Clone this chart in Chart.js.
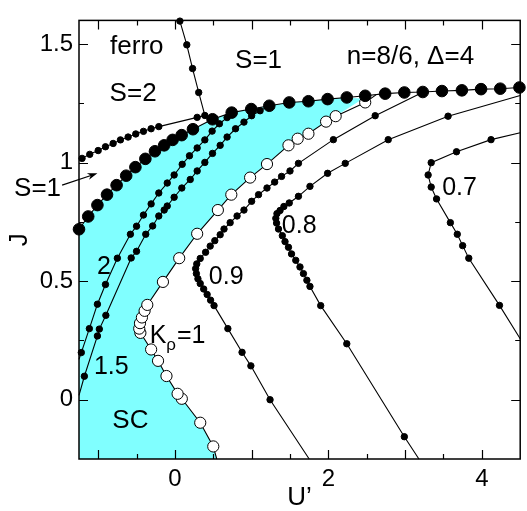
<!DOCTYPE html>
<html><head><meta charset="utf-8">
<script src="https://cdn.jsdelivr.net/npm/chart.js@4.4.1/dist/chart.umd.min.js"></script>
<style>html,body{margin:0;padding:0;background:#fff}#wrap{width:527px;height:511px}</style>
</head><body><div id="wrap"><canvas id="c" width="527" height="511"></canvas></div>
<script>
// ---------------- data (U', J) ----------------
const xRange = [-1.25, 4.5];
const yRange = [-0.25, 1.6];
const xTickLabels = [0, 2, 4];
const yTickLabels = [0, 0.5, 1, 1.5];
const xTickMarks = [-1, -0.5, 0, 0.5, 1, 1.5, 2, 2.5, 3, 3.5, 4];
const yTickMarks = [0, 0.25, 0.5, 0.75, 1, 1.25, 1.5];

// ferro / SC boundary (large filled dots)
const ferroSC = [[-1.25,0.719],[-1.13,0.773],[-1.01,0.821],[-0.885,0.865],[-0.76,0.905],[-0.635,0.945],[-0.515,0.981],[-0.385,1.016],[-0.26,1.048],[-0.14,1.073],[-0.03,1.096],[0.088,1.116],[0.235,1.141],[0.49,1.183],[0.74,1.211],[0.995,1.226],[1.23,1.24],[1.49,1.254],[1.74,1.259],[1.99,1.268],[2.24,1.275],[2.48,1.282],[2.74,1.291],[2.99,1.296],[3.23,1.298],[3.48,1.302],[3.74,1.305],[3.99,1.31],[4.24,1.312],[4.49,1.317]];
// S=1 / S=2 boundary
const s1s2 = [[-1.21,1.018],[-1.11,1.035],[-1.0,1.051],[-0.905,1.067],[-0.805,1.081],[-0.71,1.096],[-0.61,1.108],[-0.51,1.121],[-0.41,1.132],[-0.31,1.143],[-0.21,1.152],[0.29,1.191]];
const s1s2End = [[0.39,1.199]];
// ferro / S=1 boundary
const ferroS1 = [[0.065,1.597],[0.155,1.497],[0.23,1.397],[0.31,1.296],[0.39,1.199]];
// K_rho contours
const k20 = [[-1.22,0.199],[-1.115,0.30],[-1.01,0.403],[-0.905,0.486],[-0.75,0.597],[-0.58,0.698],[-0.50,0.732],[-0.41,0.779],[-0.31,0.826],[-0.21,0.872],[-0.10,0.914],[-0.01,0.948],[0.095,0.993],[0.19,1.029],[0.29,1.062],[0.39,1.096],[0.485,1.133],[0.58,1.164],[0.68,1.19]];
const k20Ends = [[-1.25,0.17],[0.74,1.211]];
const k15 = [[-1.18,0.099],[-1.01,0.269],[-0.985,0.298],[-0.90,0.356],[-0.57,0.598],[-0.50,0.626],[-0.38,0.698],[-0.29,0.733],[-0.21,0.775],[-0.14,0.80],[-0.10,0.817],[-0.01,0.854],[0.09,0.893],[0.20,0.929],[0.29,0.965],[0.39,1.001],[0.49,1.039],[0.59,1.073],[0.68,1.108],[0.79,1.143],[0.90,1.171],[1.0,1.198],[1.11,1.219]];
const k15Ends = [[-1.25,0.018],[1.22,1.238]];
const k10 = [[0.50,-0.197],[0.33,-0.097],[0.09,0.004],[0.035,0.025],[-0.11,0.10],[-0.22,0.164],[-0.31,0.212],[-0.45,0.282],[-0.465,0.30],[-0.455,0.323],[-0.43,0.347],[-0.395,0.375],[-0.36,0.40],[-0.156,0.497],[0.056,0.597],[0.29,0.70],[0.56,0.80],[0.735,0.865],[0.98,0.937],[1.20,0.994],[1.48,1.073],[1.60,1.101],[1.74,1.122],[1.97,1.173],[2.095,1.196],[2.48,1.254]];
const k10Ends = [[0.545,-0.25],[2.62,1.286]];
const k09 = [[2.61,1.198],[2.065,1.097],[1.61,0.997],[1.50,0.965],[1.39,0.942],[1.30,0.918],[1.20,0.893],[1.09,0.865],[1.0,0.837],[0.90,0.80],[0.81,0.775],[0.72,0.747],[0.64,0.72],[0.59,0.696],[0.52,0.671],[0.46,0.648],[0.40,0.622],[0.33,0.596],[0.285,0.573],[0.27,0.553],[0.28,0.532],[0.30,0.51],[0.33,0.49],[0.375,0.467],[0.42,0.444],[0.465,0.42],[0.51,0.397],[0.69,0.30],[0.875,0.2],[0.99,0.143],[1.24,0.0]];
const k09Ends = [[3.23,1.297],[1.75,-0.25]];
const k08 = [[3.56,1.196],[2.78,1.097],[2.22,0.997],[1.99,0.955],[1.76,0.90],[1.61,0.858],[1.49,0.83],[1.42,0.815],[1.37,0.798],[1.33,0.785],[1.315,0.765],[1.325,0.745],[1.35,0.72],[1.40,0.692],[1.435,0.667],[1.48,0.643],[1.52,0.615],[1.575,0.588],[1.63,0.56],[1.675,0.532],[1.72,0.504],[1.76,0.478],[1.90,0.397],[2.24,0.236],[2.99,-0.156]];
const k08Ends = [[4.5,1.283],[3.18,-0.25]];
const k07 = [[4.12,1.097],[3.67,1.046],[3.34,1.0],[3.30,0.948],[3.34,0.897],[3.41,0.847],[3.59,0.747],[3.68,0.698],[3.75,0.65],[3.83,0.597],[4.23,0.398]];
const k07Ends = [[4.5,1.126],[4.5,0.257]];
// corner where the SC region closes at the top right
const scCorner = [[2.45,1.27]];

// ---------------- build ----------------
const FONT = '"Liberation Sans", Arial, Helvetica, sans-serif';
const P = a => a.map(p => ({x: p[0], y: p[1]}));
const withEnds = (dots, ends) => [ends[0]].concat(dots, [ends[1]]);

const scPolygon = [[xRange[0], yRange[0]]]
  .concat(ferroSC.filter(p => p[0] <= 2.3), scCorner,
          k10.filter(p => p[1] < 1.2).slice().reverse(), [k10Ends[0]]);

function lineDS(pts) {
  return {data: P(pts), showLine: true, borderColor: '#000', borderWidth: 1.1,
          pointRadius: 0, pointHoverRadius: 0, tension: 0, fill: false, clip: false, order: 2};
}
function dotDS(pts, r, bg, order) {
  return {data: P(pts), showLine: false, pointRadius: r, pointHoverRadius: r,
          pointBackgroundColor: bg, pointBorderColor: '#000', pointBorderWidth: 1,
          clip: false, order: order};
}

const datasets = [
  {data: P(scPolygon), showLine: true, borderWidth: 0, borderColor: 'rgba(0,0,0,0)',
   backgroundColor: '#80ffff', fill: 'shape', pointRadius: 0, tension: 0, order: 5},
  lineDS(ferroSC), dotDS(ferroSC, 5.8, '#000', 0),
  lineDS(s1s2.concat(s1s2End)), dotDS(s1s2, 3.2, '#000', 1),
  lineDS(ferroS1), dotDS(ferroS1, 3.2, '#000', 1),
  lineDS(withEnds(k20, k20Ends)), dotDS(k20, 3.2, '#000', 1),
  lineDS(withEnds(k15, k15Ends)), dotDS(k15, 3.2, '#000', 1),
  lineDS(withEnds(k10, k10Ends)), dotDS(k10, 5.6, '#fff', 0),
  lineDS(withEnds(k09, k09Ends)), dotDS(k09, 3.2, '#000', 1),
  lineDS(withEnds(k08, k08Ends)), dotDS(k08, 3.2, '#000', 1),
  lineDS(withEnds(k07, k07Ends)), dotDS(k07, 3.2, '#000', 1),
];

const textNotes = [
  {t: 'ferro', x: -0.496, y: 1.458, s: 26},
  {t: 'S=2', x: -0.545, y: 1.261, s: 26},
  {t: 'S=1', x: 1.09, y: 1.40, s: 26},
  {t: 'n=8/6, \u0394=4', x: 3.07, y: 1.417, s: 26},
  {t: 'S=1', x: -1.79, y: 0.861, s: 26},
  {t: '2', x: -0.926, y: 0.532, s: 25},
  {t: '1.5', x: -0.829, y: 0.108, s: 25},
  {t: 'SC', x: -0.58, y: -0.121, s: 26},
  {t: '0.9', x: 0.669, y: 0.49, s: 25},
  {t: '0.8', x: 1.62, y: 0.705, s: 25},
  {t: '0.7', x: 3.71, y: 0.865, s: 25},
];
const kNote = {x: -0.329, y: 0.24};
const arrowNote = {from: [-1.47, 0.905], to: [-1.01, 0.955]};

const framePlugin = {
  id: 'frame',
  afterDatasetsDraw(chart) {
    const {ctx, chartArea: a, scales: {x, y}} = chart;
    ctx.save();
    ctx.strokeStyle = '#000';
    ctx.lineWidth = 1.2;
    ctx.beginPath();
    xTickMarks.forEach(v => {
      const px = Math.round(x.getPixelForValue(v)) + 0.5;
      const L = Number.isInteger(v) ? 9 : 5;
      ctx.moveTo(px, a.bottom); ctx.lineTo(px, a.bottom - L);
      ctx.moveTo(px, a.top); ctx.lineTo(px, a.top + L);
    });
    yTickMarks.forEach(v => {
      const py = Math.round(y.getPixelForValue(v)) + 0.5;
      const L = Number.isInteger(v * 2) ? 9 : 5;
      ctx.moveTo(a.left, py); ctx.lineTo(a.left + L, py);
      ctx.moveTo(a.right, py); ctx.lineTo(a.right - L, py);
    });
    ctx.stroke();
    ctx.lineWidth = 1.5;
    ctx.strokeRect(a.left, a.top, a.right - a.left, a.bottom - a.top);
    ctx.restore();
  },
  afterDraw(chart) {
    const {ctx, scales: {x, y}} = chart;
    ctx.save();
    ctx.fillStyle = '#000';
    ctx.textBaseline = 'alphabetic';
    textNotes.forEach(n => {
      ctx.font = n.s + 'px ' + FONT;
      ctx.textAlign = 'center';
      ctx.fillText(n.t, x.getPixelForValue(n.x), y.getPixelForValue(n.y));
    });
    // K_rho = 1
    let kx = x.getPixelForValue(kNote.x), ky = y.getPixelForValue(kNote.y);
    ctx.textAlign = 'left';
    ctx.font = '25px ' + FONT;
    ctx.fillText('K', kx, ky);
    kx += ctx.measureText('K').width;
    ctx.font = '17px ' + FONT;
    ctx.fillText('\u03c1', kx, ky + 7);
    kx += ctx.measureText('\u03c1').width + 1;
    ctx.font = '25px ' + FONT;
    ctx.fillText('=1', kx, ky);
    // arrow
    const x0 = x.getPixelForValue(arrowNote.from[0]), y0 = y.getPixelForValue(arrowNote.from[1]);
    const x1 = x.getPixelForValue(arrowNote.to[0]), y1 = y.getPixelForValue(arrowNote.to[1]);
    const d = Math.hypot(x1 - x0, y1 - y0), ux = (x1 - x0) / d, uy = (y1 - y0) / d;
    ctx.strokeStyle = '#000'; ctx.lineWidth = 1.2;
    ctx.beginPath(); ctx.moveTo(x0, y0); ctx.lineTo(x1 - ux * 6, y1 - uy * 6); ctx.stroke();
    ctx.beginPath();
    ctx.moveTo(x1, y1);
    ctx.lineTo(x1 - ux * 10 - uy * 3.5, y1 - uy * 10 + ux * 3.5);
    ctx.lineTo(x1 - ux * 7, y1 - uy * 7);
    ctx.lineTo(x1 - ux * 10 + uy * 3.5, y1 - uy * 10 - ux * 3.5);
    ctx.closePath(); ctx.fill();
    ctx.restore();
  }
};

new Chart(document.getElementById('c'), {
  type: 'scatter',
  data: {datasets},
  options: {
    responsive: false, animation: false, events: [],
    layout: {padding: {top: 16, right: 5, left: 0, bottom: 0}},
    plugins: {legend: {display: false}, tooltip: {enabled: false}},
    scales: {
      x: {
        type: 'linear', min: xRange[0], max: xRange[1],
        afterBuildTicks: s => { s.ticks = xTickLabels.map(v => ({value: v})); },
        afterFit: s => { s.height = 52; },
        grid: {display: false, drawTicks: false}, border: {display: false},
        ticks: {color: '#000', font: {family: FONT, size: 24}, padding: 6, maxRotation: 0, autoSkip: false, callback: v => String(v)},
        title: {display: true, text: 'U\u2019', color: '#000', font: {family: FONT, size: 26, lineHeight: 1}, padding: {top: 0, bottom: 0}}
      },
      y: {
        type: 'linear', min: yRange[0], max: yRange[1],
        afterBuildTicks: s => { s.ticks = yTickLabels.map(v => ({value: v})); },
        afterFit: s => { s.width = 79; },
        grid: {display: false, drawTicks: false}, border: {display: false},
        ticks: {color: '#000', font: {family: FONT, size: 24}, padding: 6, autoSkip: false, callback: v => String(v)},
        title: {display: true, text: 'J', color: '#000', font: {family: FONT, size: 26, lineHeight: 1}, padding: {top: 7, bottom: 0}}
      }
    }
  },
  plugins: [framePlugin]
});
</script></body></html>
